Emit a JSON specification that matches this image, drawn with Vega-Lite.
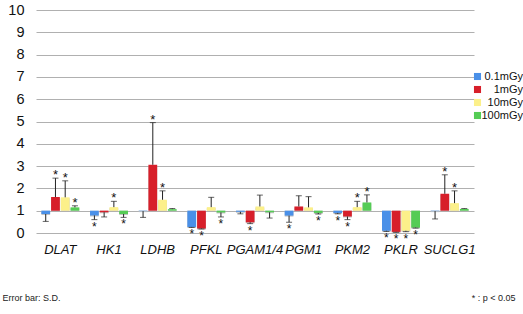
{
  "$schema": "https://vega.github.io/schema/vega-lite/v6.json",
  "autosize": {"type": "none"},
  "width": 438,
  "height": 223,
  "padding": {"left": 36, "top": 10, "right": 49, "bottom": 81},
  "background": "white",
  "config": {"font": "Liberation Sans", "view": {"stroke": null}},
  "data": {"values": [
    {"gene": "DLAT", "dose": "0.1mGy", "value": 0.85, "err": 0.52, "sig": 0},
    {"gene": "DLAT", "dose": "1mGy", "value": 1.61, "err": 2.46, "sig": 1},
    {"gene": "DLAT", "dose": "10mGy", "value": 1.6, "err": 2.34, "sig": 1},
    {"gene": "DLAT", "dose": "100mGy", "value": 1.15, "err": 1.22, "sig": 1},
    {"gene": "HK1", "dose": "0.1mGy", "value": 0.79, "err": 0.6, "sig": 1},
    {"gene": "HK1", "dose": "1mGy", "value": 0.93, "err": 0.72, "sig": 0},
    {"gene": "HK1", "dose": "10mGy", "value": 1.16, "err": 1.42, "sig": 1},
    {"gene": "HK1", "dose": "100mGy", "value": 0.85, "err": 0.7, "sig": 1},
    {"gene": "LDHB", "dose": "0.1mGy", "value": 0.98, "err": 0.7, "sig": 0},
    {"gene": "LDHB", "dose": "1mGy", "value": 3.06, "err": 4.95, "sig": 1},
    {"gene": "LDHB", "dose": "10mGy", "value": 1.49, "err": 1.89, "sig": 1},
    {"gene": "LDHB", "dose": "100mGy", "value": 1.07, "err": 1.1, "sig": 0},
    {"gene": "PFKL", "dose": "0.1mGy", "value": 0.27, "err": 0.25, "sig": 1},
    {"gene": "PFKL", "dose": "1mGy", "value": 0.2, "err": 0.18, "sig": 1},
    {"gene": "PFKL", "dose": "10mGy", "value": 1.16, "err": 1.6, "sig": 0},
    {"gene": "PFKL", "dose": "100mGy", "value": 0.92, "err": 0.72, "sig": 1},
    {"gene": "PGAM1/4", "dose": "0.1mGy", "value": 0.95, "err": 0.86, "sig": 0},
    {"gene": "PGAM1/4", "dose": "1mGy", "value": 0.48, "err": 0.42, "sig": 1},
    {"gene": "PGAM1/4", "dose": "10mGy", "value": 1.19, "err": 1.7, "sig": 0},
    {"gene": "PGAM1/4", "dose": "100mGy", "value": 0.93, "err": 0.67, "sig": 0},
    {"gene": "PGM1", "dose": "0.1mGy", "value": 0.78, "err": 0.48, "sig": 1},
    {"gene": "PGM1", "dose": "1mGy", "value": 1.19, "err": 1.67, "sig": 0},
    {"gene": "PGM1", "dose": "10mGy", "value": 1.15, "err": 1.63, "sig": 0},
    {"gene": "PGM1", "dose": "100mGy", "value": 0.9, "err": 0.85, "sig": 1},
    {"gene": "PKM2", "dose": "0.1mGy", "value": 0.9, "err": 0.86, "sig": 1},
    {"gene": "PKM2", "dose": "1mGy", "value": 0.74, "err": 0.6, "sig": 1},
    {"gene": "PKM2", "dose": "10mGy", "value": 1.16, "err": 1.42, "sig": 1},
    {"gene": "PKM2", "dose": "100mGy", "value": 1.37, "err": 1.71, "sig": 1},
    {"gene": "PKLR", "dose": "0.1mGy", "value": 0.1, "err": 0.07, "sig": 1},
    {"gene": "PKLR", "dose": "1mGy", "value": 0.05, "err": 0.03, "sig": 1},
    {"gene": "PKLR", "dose": "10mGy", "value": 0.1, "err": 0.06, "sig": 1},
    {"gene": "PKLR", "dose": "100mGy", "value": 0.24, "err": 0.22, "sig": 1},
    {"gene": "SUCLG1", "dose": "0.1mGy", "value": 0.98, "err": 0.63, "sig": 0},
    {"gene": "SUCLG1", "dose": "1mGy", "value": 1.76, "err": 2.61, "sig": 1},
    {"gene": "SUCLG1", "dose": "10mGy", "value": 1.34, "err": 1.89, "sig": 1},
    {"gene": "SUCLG1", "dose": "100mGy", "value": 1.08, "err": 1.1, "sig": 0}
  ]},
  "encoding": {
    "x": {"field": "gene", "type": "nominal", "sort": null,
      "scale": {"paddingInner": 0.22, "paddingOuter": 0.11},
      "axis": {"title": "* : p < 0.05", "titleAnchor": "end", "titleAlign": "right", "titleBaseline": "middle", "titleX": 479, "titleY": 64, "titleFontSize": 9, "titleFontWeight": "normal", "titleColor": "#222",
        "labelAngle": 0, "labelFontSize": 13, "labelFontStyle": "italic", "labelColor": "#111", "labelPadding": 10, "labelOverlap": false, "ticks": false, "domain": false}},
    "xOffset": {"field": "dose", "type": "nominal", "sort": ["0.1mGy", "1mGy", "10mGy", "100mGy"], "scale": {"paddingInner": 0.1}},
    "y": {"field": "value", "type": "quantitative", "scale": {"domain": [0, 10], "nice": false},
      "axis": {"title": "Error bar: S.D.", "titleAngle": 0, "titleAlign": "left", "titleBaseline": "middle", "titleX": -34, "titleY": 287, "titleFontSize": 9, "titleFontWeight": "normal", "titleColor": "#222", "values": [0,1,2,3,4,5,6,7,8,9,10], "labelOverlap": false, "grid": true, "gridColor": "#b0b0b0", "domain": false, "ticks": false, "labelFontSize": 14.5, "labelColor": "#111", "labelPadding": 12}}
  },
  "layer": [
    {
      "mark": {"type": "bar", "color": "#c4c4c4", "xOffset": 2, "yOffset": 1},
      "encoding": {"y2": {"datum": 1}}
    },
    {
      "mark": {"type": "bar"},
      "encoding": {
        "y2": {"datum": 1},
        "color": {"field": "dose", "type": "nominal", "sort": ["0.1mGy", "1mGy", "10mGy", "100mGy"],
          "scale": {"domain": ["0.1mGy", "1mGy", "10mGy", "100mGy"], "range": ["#4a90e8", "#d71f2a", "#fcf08a", "#55cc55"]},
          "legend": {"orient": "none", "legendX": 436, "legendY": 61, "title": null, "symbolType": "square", "symbolSize": 50, "symbolStrokeWidth": 0, "labelFontSize": 11, "labelColor": "#111", "rowPadding": 1, "labelAlign": "right", "labelOffset": 40}}
      }
    },
    {
      "mark": {"type": "rule", "color": "#222", "strokeWidth": 1},
      "encoding": {"y2": {"field": "err"}}
    },
    {
      "mark": {"type": "tick", "color": "#222", "thickness": 1, "size": 6},
      "encoding": {"y": {"field": "err", "type": "quantitative", "axis": {"title": "Error bar: S.D.", "titleAngle": 0, "titleAlign": "left", "titleBaseline": "middle", "titleX": -34, "titleY": 287, "titleFontSize": 9, "titleFontWeight": "normal", "titleColor": "#222", "values": [0,1,2,3,4,5,6,7,8,9,10], "labelOverlap": false, "grid": true, "gridColor": "#b0b0b0", "domain": false, "ticks": false, "labelFontSize": 14.5, "labelColor": "#111", "labelPadding": 12}}}
    },
    {
      "transform": [{"filter": "datum.sig == 1 && datum.err > datum.value"}],
      "mark": {"type": "text", "text": "*", "fontSize": 13, "baseline": "middle", "dy": -3, "color": "#111"},
      "encoding": {"y": {"field": "err", "type": "quantitative", "axis": {"title": "Error bar: S.D.", "titleAngle": 0, "titleAlign": "left", "titleBaseline": "middle", "titleX": -34, "titleY": 287, "titleFontSize": 9, "titleFontWeight": "normal", "titleColor": "#222", "values": [0,1,2,3,4,5,6,7,8,9,10], "labelOverlap": false, "grid": true, "gridColor": "#b0b0b0", "domain": false, "ticks": false, "labelFontSize": 14.5, "labelColor": "#111", "labelPadding": 12}}}
    },
    {
      "transform": [{"filter": "datum.sig == 1 && datum.err < datum.value"}],
      "mark": {"type": "text", "text": "*", "fontSize": 12, "baseline": "middle", "dy": 7, "color": "#111"},
      "encoding": {"y": {"field": "err", "type": "quantitative", "axis": {"title": "Error bar: S.D.", "titleAngle": 0, "titleAlign": "left", "titleBaseline": "middle", "titleX": -34, "titleY": 287, "titleFontSize": 9, "titleFontWeight": "normal", "titleColor": "#222", "values": [0,1,2,3,4,5,6,7,8,9,10], "labelOverlap": false, "grid": true, "gridColor": "#b0b0b0", "domain": false, "ticks": false, "labelFontSize": 14.5, "labelColor": "#111", "labelPadding": 12}}}
    }
  ]
}
